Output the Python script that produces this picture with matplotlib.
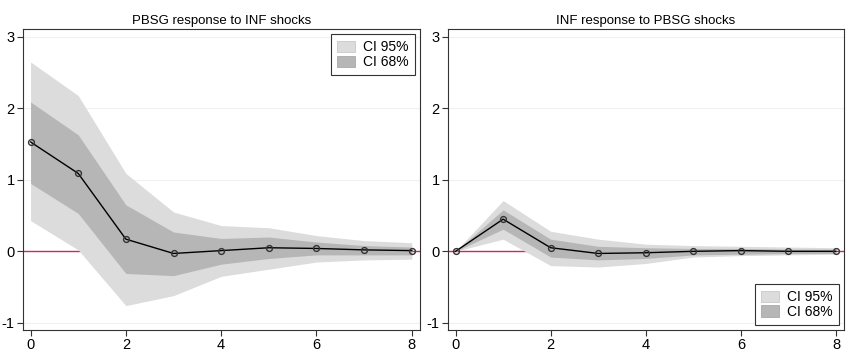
import numpy as np
import matplotlib
matplotlib.use("Agg")
import matplotlib.pyplot as plt
from matplotlib.patches import Patch

plt.rcParams['font.family'] = ['Liberation Sans', 'DejaVu Sans']
plt.rcParams['axes.unicode_minus'] = False

# --- data ---
steps = [0, 1, 2, 3, 4, 5, 6, 7, 8]

# PBSG response to INF shocks
irf_a = [1.53, 1.09, 0.17, -0.03, 0.01, 0.05, 0.04, 0.02, 0.01]
hi95_a = [2.65, 2.18, 1.09, 0.55, 0.36, 0.33, 0.22, 0.15, 0.12]
lo95_a = [0.43, 0.02, -0.76, -0.62, -0.35, -0.25, -0.15, -0.12, -0.11]
hi68_a = [2.09, 1.63, 0.65, 0.27, 0.18, 0.20, 0.13, 0.08, 0.06]
lo68_a = [0.95, 0.53, -0.31, -0.34, -0.18, -0.10, -0.05, -0.05, -0.05]

# INF response to PBSG shocks
irf_b = [0.0, 0.45, 0.05, -0.03, -0.02, 0.0, 0.01, 0.0, 0.0]
hi95_b = [0.0, 0.71, 0.28, 0.17, 0.10, 0.08, 0.07, 0.06, 0.05]
lo95_b = [0.0, 0.17, -0.20, -0.22, -0.17, -0.08, -0.06, -0.05, -0.04]
hi68_b = [0.0, 0.58, 0.17, 0.07, 0.05, 0.04, 0.04, 0.03, 0.03]
lo68_b = [0.0, 0.31, -0.08, -0.12, -0.10, -0.05, -0.04, -0.03, -0.03]

titles = ['PBSG response to INF shocks', 'INF response to PBSG shocks']
legend_pos = ['upper right', 'lower right']

c95 = '#dcdcdc'
c68 = '#b6b6b6'

fig = plt.figure(figsize=(8.5, 3.59), dpi=100)
ax1 = fig.add_axes([0.027, 0.081, 0.467, 0.838])
ax2 = fig.add_axes([0.527, 0.081, 0.466, 0.838])

panels = [
    (ax1, irf_a, hi95_a, lo95_a, hi68_a, lo68_a),
    (ax2, irf_b, hi95_b, lo95_b, hi68_b, lo68_b),
]

for i, (ax, irf, h95, l95, h68, l68) in enumerate(panels):
    for y in [-1, 1, 2, 3]:
        ax.axhline(y, color='#f0f0f0', lw=0.8, zorder=0)
    ax.axhline(0, color='#d6245e', lw=1.0, zorder=1)
    ax.fill_between(steps, l95, h95, color=c95, lw=0, zorder=2)
    ax.fill_between(steps, l68, h68, color=c68, lw=0, zorder=3)
    ax.plot(steps, irf, color='black', lw=1.0, marker='o', ms=4.2,
            mfc='none', mec='#333333', mew=1.0, zorder=4)

    ax.set_xlim(-0.16, 8.17)
    ax.set_ylim(-1.1, 3.11)
    ax.set_xticks([0, 2, 4, 6, 8])
    ax.set_yticks([-1, 0, 1, 2, 3])
    ax.tick_params(labelsize=10.5, length=4, width=0.8, color='#333333', pad=2)
    for s in ax.spines.values():
        s.set_color('#333333')
        s.set_linewidth(0.8)
    ax.set_title(titles[i], fontsize=9.5, pad=4)

    handles = [Patch(facecolor=c95, edgecolor='#c8c8c8', lw=0.6, label='CI 95%'),
               Patch(facecolor=c68, edgecolor='#a8a8a8', lw=0.6, label='CI 68%')]
    leg = ax.legend(handles=handles, loc=legend_pos[i], fontsize=10,
                    fancybox=False, framealpha=1, edgecolor='#333333',
                    handlelength=1.3, handleheight=0.85, handletextpad=0.6,
                    borderpad=0.45, labelspacing=0.05, borderaxespad=0.35)
    leg.get_frame().set_linewidth(0.8)

fig.savefig('out.png', dpi=100)
